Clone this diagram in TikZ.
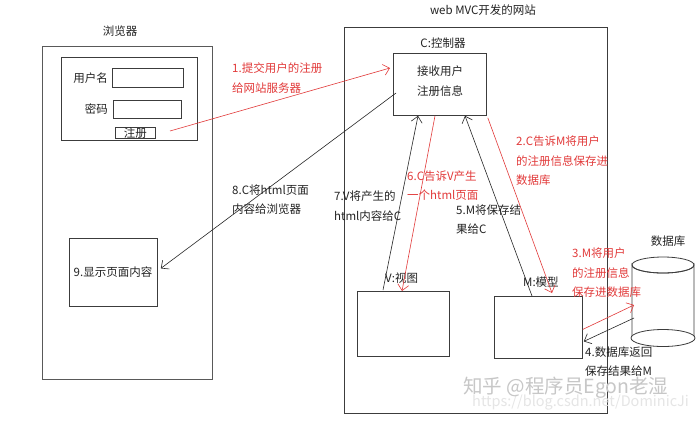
\documentclass[tikz,border=0pt]{standalone}
\usepackage{fontspec}
\setmainfont{Noto Sans CJK SC}
\usetikzlibrary{arrows.meta,calc}
\definecolor{redline}{RGB}{226,58,58}
\definecolor{boxline}{RGB}{60,60,60}
\definecolor{txt}{RGB}{35,35,35}
\begin{document}
\begin{tikzpicture}[x=1pt,y=-1pt,
  every node/.style={font=\fontsize{11.5}{19.5}\selectfont, text=txt},
  box/.style={draw=boxline, line width=0.8pt, anchor=north west, inner sep=0pt, fill=none},
  redlbl/.style={text=redline, align=left, anchor=west, inner sep=0pt},
  blklbl/.style={text=txt, align=left, anchor=west, inner sep=0pt},
  redarr/.style={draw=redline, line width=0.6pt, -{Straight Barb[length=6pt,width=11pt]}},
  blkarr/.style={draw=black!85, line width=0.6pt, -{Straight Barb[length=6pt,width=11pt]}},
  wm/.style={inner sep=0pt, anchor=west}
]
\useasboundingbox (0,0) rectangle (698,421);
\fill[white] (0,0) rectangle (698,421);

% browser
\node[inner sep=0pt] (btitle) at (120,31) {浏览器};
\node[box, line width=1pt, draw=black!65, minimum width=170pt, minimum height=333pt] (browser) at (42,46) {};
\node[box, minimum width=136pt, minimum height=83pt] (form) at (61,57) {};
\node[inner sep=0pt, anchor=east] (lblu) at (108,78) {用户名};
\node[box, minimum width=71pt, minimum height=19pt] (inu) at (112,68) {};
\node[inner sep=0pt, anchor=east] (lblp) at (108,109) {密码};
\node[box, minimum width=68pt, minimum height=18pt] (inp) at (113,100) {};
\node[box, minimum width=40pt, minimum height=11pt] (btn) at (115,127) {};
\node[inner sep=0pt] (btntxt) at (btn.center) {注册};
\node[box, minimum width=88pt, minimum height=68pt] (disp) at (69,238) {};
\node[inner sep=0pt] (disptxt) at (113,272) {9.显示页面内容};

% server
\node[inner sep=0pt] (stitle) at (483,10) {web MVC开发的网站};
\node[box, minimum width=263pt, minimum height=386pt] (server) at (344,27) {};
\node[inner sep=0pt] (ctitle) at (443,43) {C:控制器};
\node[box, minimum width=93pt, minimum height=62pt] (ctrl) at (393,53) {};
\node[blklbl] (ctxt) at (417,81) {接收用户\\注册信息};
\node[blklbl] (vtitle) at (385,278) {V:视图};
\node[box, minimum width=92pt, minimum height=65pt] (V) at (357,291) {};
\node[blklbl] (mtitle) at (523,282) {M:模型};
\node[box, minimum width=88pt, minimum height=62pt] (M) at (494,296) {};

% database cylinder
\coordinate (db) at (663,301);
\node[inner sep=0pt] (dbtitle) at (668,241) {数据库};
\draw[boxline, line width=0.8pt, fill=white] ($(db)+(-31,36)$) -- ($(db)+(-31,-36)$) arc[start angle=180,end angle=360,x radius=31,y radius=-8] -- ($(db)+(31,36)$);
\draw[boxline, line width=0.8pt] ($(db)+(0,-36)$) ellipse[x radius=31, y radius=8];
\draw[boxline, line width=0.8pt, fill=white] ($(db)+(0,37)$) ellipse[x radius=32, y radius=8.5];

% watermark
\node[wm, text=black!10, font=\fontsize{14.5}{14.5}\selectfont] (wm2) at (472,403) {https://blog.csdn.net/DominicJi};
\node[wm, text=black!22, font=\fontsize{19.5}{19.5}\selectfont] (wm1) at (463,388) {知乎 @程序员Egon老湿};

% labels
\node[redlbl] (l1) at (232,78) {1.提交用户的注册\\给网站服务器};
\node[blklbl] (l8) at (232,199.5) {8.C将html页面\\内容给浏览器};
\node[blklbl] (l7) at (334,206) {7.V将产生的\\html内容给C};
\node[redlbl] (l6) at (407,185.5) {6.C告诉V产生\\一个html页面};
\node[blklbl] (l5) at (456,219.5) {5.M将保存结\\果给C};
\node[redlbl] (l2) at (516,161) {2.C告诉M将用户\\的注册信息保存进\\数据库};
\node[redlbl] (l3) at (572,273) {3.M将用户\\的注册信息\\保存进数据库};
\node[blklbl] (l4) at (585,361.5) {4.数据库返回\\保存结果给M};

% connectors
\coordinate (s1) at (170,131);
\draw[redarr] (s1) -- ($(ctrl.north west)+(-3,15)$);
\draw[blkarr] ($(ctrl.north west)+(3,40)$) -- ($(disp.east)+(3,-4)$);
\draw[blkarr] ($(V.north west)+(26,-1)$) -- ($(ctrl.south west)+(25,0)$);
\draw[redarr] ($(ctrl.south west)+(42,0)$) -- ($(V.north west)+(45,0)$);
\draw[blkarr] ($(M.north west)+(38,0)$) -- ($(ctrl.south west)+(72,0)$);
\draw[redarr] ($(ctrl.south east)+(1,2)$) -- ($(M.north west)+(58,-3)$);
\draw[redarr] ($(M.east)+(0,2)$) -- ($(db)+(-29,4)$);
\draw[blkarr] ($(db)+(-29,17)$) -- ($(M.east)+(1,14)$);
\end{tikzpicture}
\end{document}
